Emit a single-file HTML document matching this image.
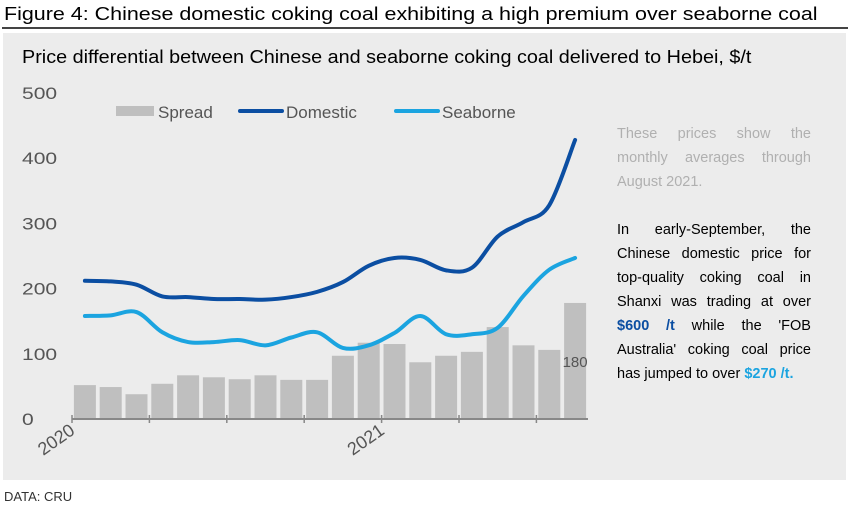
<!DOCTYPE html>
<html><head><meta charset="utf-8"><style>
body{margin:0;width:850px;height:509px;background:#fff;font-family:"Liberation Sans",Arial,sans-serif;position:relative;overflow:hidden}
.t{position:absolute;white-space:nowrap}
#side{position:absolute;left:617px;top:122px;width:194px;font-size:14.5px;line-height:24px;text-align:justify;text-align-last:justify}
#side p{margin:0}
</style></head><body>
<div class="t" style="left:4px;top:3px;font-size:18.5px;color:#000;transform:scaleX(1.16);transform-origin:0 0">Figure 4: Chinese domestic coking coal exhibiting a high premium over seaborne coal</div>
<div style="position:absolute;left:2px;top:27px;width:846px;height:1.5px;background:#444"></div>
<div style="position:absolute;left:3px;top:33px;width:843px;height:447px;background:#ececec"></div>
<div class="t" style="left:22px;top:47px;font-size:18px;color:#000;transform:scaleX(1.1);transform-origin:0 0">Price differential between Chinese and seaborne coking coal delivered to Hebei, $/t</div>
<svg id="chart" width="850" height="509" style="position:absolute;left:0;top:0"></svg>
<div id="side">
<p style="color:#b0b0b0">These prices show the monthly averages through</p>
<p style="color:#b0b0b0;text-align-last:left">August 2021.</p>
<p style="height:24px"></p>
<p>In early-September, the Chinese domestic price for top-quality coking coal in Shanxi was trading at over <b style="color:#0b4ea2">$600 /t</b> while the 'FOB Australia' coking coal price</p>
<p style="text-align-last:left">has jumped to over <b style="color:#1ba4e0">$270 /t.</b></p>
</div>
<div class="t" style="left:4px;top:489px;font-size:13px;color:#333">DATA: CRU</div>
<script>
const months=["Jan20","Feb20","Mar20","Apr20","May20","Jun20","Jul20","Aug20","Sep20","Oct20","Nov20","Dec20","Jan21","Feb21","Mar21","Apr21","May21","Jun21","Jul21","Aug21"];
const spread=[52,49,38,54,67,64,61,67,60,60,97,117,115,87,97,103,141,113,106,178];
const domestic=[212,211,206,188,187,184,184,183,187,195,210,235,247,244,228,232,280,302,328,428];
const seaborne=[158,159,164,133,118,118,121,113,125,133,109,113,132,158,130,130,140,189,229,247];
const yTicks=[0,100,200,300,400,500];
const xLabels=[{i:0,t:"2020"},{i:12,t:"2021"}];
const NS="http://www.w3.org/2000/svg",svg=document.getElementById('chart');
const x0=72,step=25.8,y0=419,k=0.652;
const X=i=>x0+step*(i+0.5), Y=v=>y0-v*k;
function mk(t,a){const e=document.createElementNS(NS,t);for(const n in a)e.setAttribute(n,a[n]);svg.appendChild(e);return e;}
yTicks.forEach(v=>{const e=mk('text',{x:22,y:Y(v)+6,'font-size':17,fill:'#555','font-family':'Liberation Sans',textLength:(String(v).length*11.7),lengthAdjust:'spacingAndGlyphs'});e.textContent=v;

});
spread.forEach((v,i)=>{const e=mk('rect',{x:X(i)-11,y:Y(v),width:22,height:v*k,fill:'#bfbfbf'});

});
const ax=mk('line',{x1:x0,x2:x0+step*20,y1:y0,y2:y0,stroke:'#888','stroke-width':2});


for(let i=0;i<=20;i+=3){const e=mk('line',{x1:x0+step*i,x2:x0+step*i,y1:y0-4,y2:y0+4,stroke:'#888','stroke-width':1.5});

}
xLabels.forEach(l=>{const px=x0+step*l.i+4;const e=mk('text',{x:px,y:y0+14,'font-size':18,fill:'#555','text-anchor':'end','font-family':'Liberation Sans',transform:`rotate(-35 ${px} ${y0+14})`});e.textContent=l.t;

});
function path(d){const p=d.map((v,i)=>[X(i),Y(v)]);let s=`M${p[0][0]},${p[0][1]}`;
for(let i=0;i<p.length-1;i++){const a=p[i-1]||p[i],b=p[i],c=p[i+1],d2=p[i+2]||c;
s+=` C${b[0]+(c[0]-a[0])/6},${b[1]+(c[1]-a[1])/6} ${c[0]-(d2[0]-b[0])/6},${c[1]-(d2[1]-b[1])/6} ${c[0]},${c[1]}`;}return s;}
const ld=mk('path',{d:path(domestic),fill:'none',stroke:'#0b4ea2','stroke-width':4,'stroke-linecap':'round'});


const ls=mk('path',{d:path(seaborne),fill:'none',stroke:'#1ba4e0','stroke-width':4,'stroke-linecap':'round'});


const last=spread.length-1;
const vl=mk('text',{x:X(last),y:Y(spread[last])+64,'font-size':15,fill:'#555','text-anchor':'middle','font-family':'Liberation Sans'});vl.textContent=Math.round(spread[last]/10)*10;


const leg=[["Spread","#bfbfbf",116,1],["Domestic","#0b4ea2",240,0],["Seaborne","#1ba4e0",396,0]];
leg.forEach(([n,c,x,bar])=>{if(bar){mk('rect',{x:x,y:106,width:38,height:10,fill:c});}else{mk('line',{x1:x,x2:x+42,y1:111,y2:111,stroke:c,'stroke-width':4,'stroke-linecap':'round'});}
const t=mk('text',{x:x+(bar?42:46),y:118,'font-size':17,fill:'#555','font-family':'Liberation Sans'});t.textContent=n;

});
</script>
</body></html>
